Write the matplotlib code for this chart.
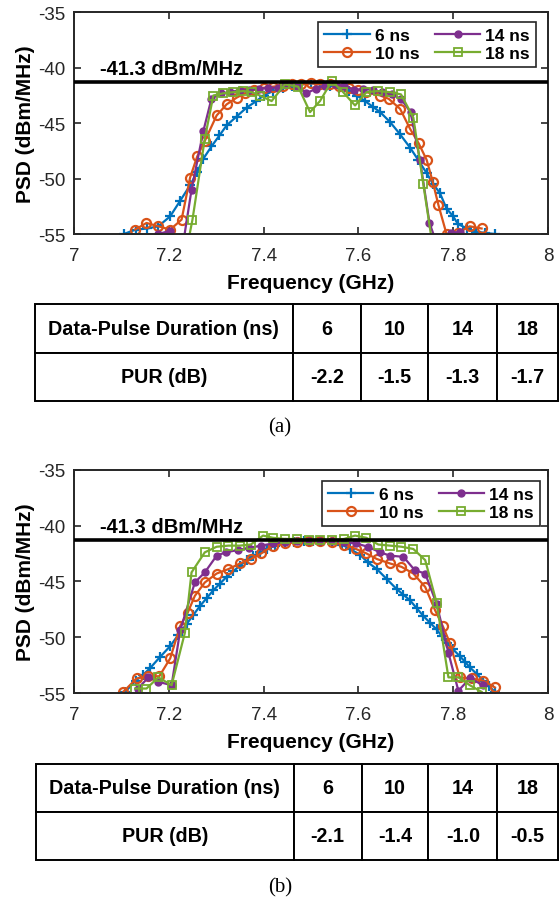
import matplotlib.pyplot as plt

plt.rcParams['font.family'] = ['Liberation Sans', 'DejaVu Sans']
plt.rcParams['axes.unicode_minus'] = False

# ---- (a) measured PSD ----
a6_f = [7.105, 7.13, 7.155, 7.178, 7.203, 7.224, 7.245, 7.26, 7.273, 7.29, 7.307, 7.322, 7.343,
        7.364, 7.385, 7.40, 7.42, 7.44, 7.46, 7.48, 7.50, 7.52, 7.54, 7.56, 7.58, 7.597, 7.614,
        7.63, 7.646, 7.667, 7.688, 7.709, 7.726, 7.744, 7.758, 7.772, 7.786, 7.80, 7.81, 7.83,
        7.849, 7.868, 7.888]
a6_p = [-55.0, -54.6, -54.5, -54.3, -53.4, -52.0, -50.6, -49.4, -48.2, -47.1, -46.1, -45.2, -44.4,
        -43.6, -43.0, -42.5, -42.1, -41.8, -41.6, -41.5, -41.4, -41.5, -41.6, -41.8, -42.1, -42.5,
        -43.0, -43.5, -44.0, -44.9, -46.0, -47.2, -48.3, -49.5, -50.5, -51.3, -52.7, -53.4, -54.1,
        -54.5, -54.8, -54.9, -55.0]

a10_f = [7.129, 7.153, 7.178, 7.203, 7.227, 7.245, 7.26, 7.276, 7.301, 7.322, 7.343, 7.36, 7.38,
         7.40, 7.42, 7.44, 7.46, 7.48, 7.50, 7.52, 7.54, 7.56, 7.58, 7.60, 7.617, 7.646, 7.664,
         7.688, 7.709, 7.727, 7.744, 7.757, 7.769, 7.786, 7.81, 7.835, 7.86]
a10_p = [-54.6, -54.0, -54.3, -54.6, -53.7, -49.9, -48.0, -46.6, -44.3, -43.3, -42.7, -42.3, -42.0,
         -41.8, -41.7, -41.6, -41.5, -41.5, -41.4, -41.5, -41.5, -41.6, -41.8, -42.0, -42.2, -42.5,
         -42.8, -43.7, -45.5, -46.8, -48.3, -50.3, -52.4, -55.0, -54.9, -54.3, -54.5]

a14_f = [7.178, 7.203, 7.228, 7.248, 7.273, 7.29, 7.31, 7.33, 7.35, 7.37, 7.39, 7.41, 7.43, 7.45,
         7.47, 7.49, 7.51, 7.53, 7.55, 7.57, 7.59, 7.61, 7.63, 7.65, 7.67, 7.69, 7.71, 7.73, 7.75,
         7.775, 7.795, 7.814]
a14_p = [-55.0, -54.7, -56.5, -51.0, -45.7, -42.8, -42.3, -42.2, -42.0, -42.0, -41.9, -41.8, -41.8,
         -41.5, -41.6, -42.3, -41.9, -41.6, -41.5, -41.6, -42.0, -41.9, -42.0, -42.2, -42.4, -42.8,
         -44.0, -48.3, -54.0, -57.0, -54.9, -54.8]

a18_f = [7.235, 7.25, 7.276, 7.294, 7.315, 7.336, 7.357, 7.375, 7.392, 7.417, 7.445, 7.473, 7.498,
         7.519, 7.544, 7.568, 7.593, 7.617, 7.641, 7.667, 7.69, 7.716, 7.737, 7.76]
a18_p = [-57.0, -53.7, -46.4, -42.5, -42.3, -42.2, -42.1, -42.2, -42.5, -43.0, -41.5, -41.7, -44.0,
         -43.0, -41.2, -42.2, -43.4, -42.2, -42.1, -42.2, -42.4, -44.5, -50.5, -57.0]

# ---- (b) measured PSD ----
b6_f = [7.108, 7.13, 7.145, 7.16, 7.181, 7.203, 7.22, 7.238, 7.252, 7.266, 7.28, 7.294, 7.308,
        7.322, 7.336, 7.35, 7.364, 7.378, 7.393, 7.407, 7.425, 7.445, 7.465, 7.485, 7.505, 7.525,
        7.545, 7.565, 7.582, 7.603, 7.62, 7.639, 7.66, 7.681, 7.695, 7.709, 7.723, 7.737, 7.751,
        7.765, 7.776, 7.786, 7.80, 7.814, 7.825, 7.835, 7.85, 7.864, 7.876, 7.888]
b6_p = [-54.9, -53.9, -53.4, -52.8, -51.8, -50.8, -49.8, -48.8, -48.0, -47.2, -46.5, -45.8, -45.2,
        -44.6, -44.1, -43.6, -43.1, -42.7, -42.4, -42.1, -41.8, -41.6, -41.5, -41.4, -41.4, -41.4,
        -41.5, -41.7, -42.1, -42.6, -43.3, -43.9, -44.8, -45.7, -46.2, -46.7, -47.4, -48.1, -48.7,
        -49.3, -49.9, -50.5, -51.1, -51.7, -52.2, -52.7, -53.3, -53.9, -54.4, -54.9]

b10_f = [7.104, 7.132, 7.157, 7.18, 7.203, 7.224, 7.24, 7.255, 7.276, 7.301, 7.326, 7.35, 7.373,
         7.395, 7.42, 7.445, 7.47, 7.495, 7.52, 7.545, 7.57, 7.595, 7.617, 7.639, 7.667, 7.691,
         7.716, 7.741, 7.762, 7.778, 7.793, 7.814, 7.839, 7.864, 7.888]
b10_p = [-54.9, -53.7, -53.5, -53.5, -51.9, -49.0, -47.8, -46.3, -45.1, -44.3, -43.9, -43.4, -43.0,
         -42.5, -41.8, -41.6, -41.5, -41.4, -41.4, -41.5, -41.7, -42.1, -42.5, -43.0, -43.4, -43.7,
         -44.3, -45.5, -47.6, -49.0, -50.5, -53.6, -53.7, -53.9, -54.5]

b14_f = [7.135, 7.157, 7.178, 7.206, 7.224, 7.255, 7.276, 7.301, 7.32, 7.345, 7.37, 7.395, 7.42,
         7.445, 7.47, 7.495, 7.52, 7.545, 7.57, 7.595, 7.62, 7.646, 7.667, 7.695, 7.719, 7.741,
         7.765, 7.79, 7.811, 7.835, 7.864]
b14_p = [-54.6, -53.6, -54.0, -54.3, -49.4, -45.1, -44.2, -42.7, -42.4, -42.2, -42.0, -41.8, -41.6,
         -41.5, -41.4, -41.4, -41.4, -41.4, -41.5, -41.6, -41.9, -42.4, -42.7, -42.8, -44.0, -44.3,
         -47.0, -51.4, -54.8, -53.7, -54.3]

b18_f = [7.129, 7.153, 7.178, 7.206, 7.234, 7.248, 7.276, 7.301, 7.326, 7.35, 7.373, 7.399, 7.42,
         7.445, 7.47, 7.495, 7.52, 7.545, 7.57, 7.593, 7.617, 7.642, 7.667, 7.691, 7.716, 7.741,
         7.765, 7.79, 7.811, 7.835, 7.86]
b18_p = [-54.6, -54.6, -53.6, -54.3, -49.6, -44.2, -42.4, -41.9, -41.8, -41.8, -41.7, -40.9, -41.1,
         -41.2, -41.2, -41.3, -41.3, -41.3, -41.2, -40.9, -41.1, -41.7, -41.8, -41.9, -42.1, -43.1,
         -46.9, -53.6, -53.6, -54.3, -54.9]

limit = -41.3
durations = ['6', '10', '14', '18']
pur_a = ['-2.2', '-1.5', '-1.3', '-1.7']
pur_b = ['-2.1', '-1.4', '-1.0', '-0.5']

colors = ['#0072BD', '#D95319', '#7E2F8E', '#77AC30']
styles = [dict(marker='+', ms=7, mew=1.6),
          dict(marker='o', ms=6.5, mew=1.6, mfc='none'),
          dict(marker='o', ms=5, mew=1.0),
          dict(marker='s', ms=5.5, mew=1.3, mfc='none')]

fig = plt.figure(figsize=(5.6, 9.04), dpi=100)


def psd_panel(rect, series, legend_anchor):
    ax = fig.add_axes(rect)
    for (f, p), c, st, d in zip(series, colors, styles, durations):
        ax.plot(f, p, color=c, lw=1.6, label=f'{d} ns', **st)
    ax.axhline(limit, color='k', lw=2.6, zorder=5)
    ax.text(7.055, limit + 0.35, f'{limit} dBm/MHz', fontsize=14.5, fontweight='bold',
            va='bottom', ha='left')
    ax.set_xlim(7, 8)
    ax.set_ylim(-55, -35)
    ax.set_xticks([7, 7.2, 7.4, 7.6, 7.8, 8])
    ax.set_xticklabels(['7', '7.2', '7.4', '7.6', '7.8', '8'])
    ax.set_yticks([-55, -50, -45, -40, -35])
    ax.tick_params(direction='in', top=True, right=True, length=5, width=1.2,
                   labelsize=13.5, colors='#262626')
    ax.tick_params(axis='x', pad=9)
    ax.tick_params(axis='y', pad=6)
    for s in ax.spines.values():
        s.set_linewidth(1.4)
        s.set_color('#262626')
    ax.set_xlabel('Frequency (GHz)', fontsize=15, fontweight='bold', labelpad=7)
    ax.set_ylabel('PSD (dBm/MHz)', fontsize=15, fontweight='bold', labelpad=2)
    leg = ax.legend(ncol=2, loc='upper right', bbox_to_anchor=legend_anchor, borderaxespad=0,
                    prop=dict(weight='bold', size=12.5), handlelength=2.6, handletextpad=0.3,
                    columnspacing=0.9, labelspacing=0.15, borderpad=0.35, fancybox=False,
                    framealpha=1)
    leg.get_frame().set_edgecolor('#262626')
    leg.get_frame().set_linewidth(1.2)
    return ax


def pur_table(rect, pur, caption, caption_y):
    ax = fig.add_axes(rect)
    ax.axis('off')
    tb = ax.table(cellText=[['Data-Pulse Duration (ns)'] + durations, ['PUR (dB)'] + pur],
                  colWidths=[259, 68, 67, 69, 61], cellLoc='center', bbox=[0, 0, 1, 1])
    tb.auto_set_font_size(False)
    for cell in tb.get_celld().values():
        cell.set_linewidth(1.4)
        cell.get_text().set_fontsize(14.2)
        cell.get_text().set_fontweight('bold')
    fig.text(0.5, caption_y, caption, ha='center', va='center',
             fontsize=15, family='Liberation Serif')


psd_panel([0.1321, 0.7400, 0.8464, 0.2452],
          [(a6_f, a6_p), (a10_f, a10_p), (a14_f, a14_p), (a18_f, a18_p)], (0.975, 0.956))
pur_table([0.0618, 1 - 402 / 904, 0.9343, 97 / 904], pur_a, '(a)', 1 - 428 / 904)

psd_panel([0.1321, 0.2323, 0.8464, 0.2470],
          [(b6_f, b6_p), (b10_f, b10_p), (b14_f, b14_p), (b18_f, b18_p)], (0.983, 0.949))
pur_table([0.0638, 1 - 861 / 904, 0.9325, 96 / 904], pur_b, '(b)', 1 - 888 / 904)

fig.savefig('out.png', dpi=100)
